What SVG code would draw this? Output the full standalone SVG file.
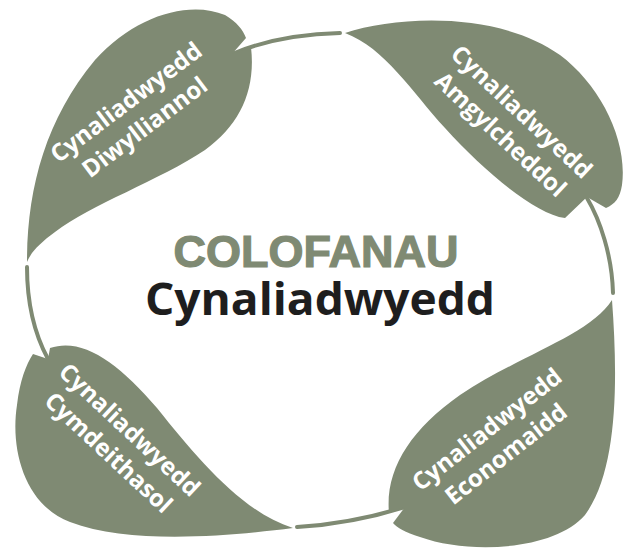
<svg xmlns="http://www.w3.org/2000/svg" width="631" height="551" viewBox="0 0 631 551">
<style>
.leaf{fill:#7f8a73}
.stem{fill:none;stroke:#7f8a73;stroke-width:4;stroke-linecap:round}
.lt{font-family:"Open Sans","Noto Sans",sans-serif;font-weight:700;font-size:24px;fill:#fff;text-anchor:middle}
.t1{font-family:"Liberation Sans",Arial,sans-serif;font-weight:700;font-size:45px;fill:#7f8a73;stroke:#7f8a73;stroke-width:1.2;text-anchor:middle}
.t2{font-family:"Open Sans","Noto Sans",sans-serif;font-weight:700;font-size:45px;fill:#1e1e1e;text-anchor:middle}
</style>
<rect width="631" height="551" fill="#fff"/>
<g id="connectors">
<path class="stem" d="M232,54 C265,40 300,34 340,33"/>
<path class="stem" d="M587,198 C600,220 612,255 613,293"/>
<path class="stem" d="M405,507 C370,518 330,525 297,527"/>
<path class="stem" d="M48,359 C35,335 27,305 27,267"/>
</g>
<g id="leaf-diwylliannol">
<path class="leaf" d="M27,262 C27,190 45,120 95,60 C135,15 190,0 225,15 C237,22 243,30 246,38 L232,54 L251,47 C256,90 240,125 205,150 C160,180 90,205 55,232 C40,243 31,252 27,262 Z"/>
<g transform="translate(131,109) rotate(-37)">
<text class="lt" x="0" y="0">Cynaliadwyedd</text>
<text class="lt" x="0" y="31">Diwylliannol</text>
</g>
</g>
<g id="leaf-amgylcheddol">
<path class="leaf" d="M345,33 C400,15 500,12 560,55 C600,85 628,140 622,185 C620,198 615,204 606,208 L587,197 L565,218 C535,214 485,172 445,128 C412,92 385,48 345,33 Z"/>
<g transform="translate(516,118) rotate(43)">
<text class="lt" x="0" y="0">Cynaliadwyedd</text>
<text class="lt" x="0" y="31">Amgylcheddol</text>
</g>
</g>
<g id="leaf-economaidd">
<path class="leaf" d="M612,300 C618,380 618,470 585,515 C555,550 470,555 420,537 C405,532 397,528 393,523 L405,507 L389,513 C385,470 410,430 460,395 C520,355 590,335 612,300 Z"/>
<g transform="translate(492,436) rotate(-38)">
<text class="lt" x="0" y="0">Cynaliadwyedd</text>
<text class="lt" x="0" y="31">Economaidd</text>
</g>
</g>
<g id="leaf-cymdeithasol">
<path class="leaf" d="M293,528 C230,536 130,545 70,522 C25,505 10,450 17,405 C20,380 26,365 33,354 L48,359 L50,348 C82,337 118,362 157,408 C197,458 242,512 293,528 Z"/>
<g transform="translate(124,436) rotate(43)">
<text class="lt" x="0" y="0">Cynaliadwyedd</text>
<text class="lt" x="0" y="31">Cymdeithasol</text>
</g>
</g>
<g id="title">
<text class="t1" x="316" y="267">COLOFANAU</text>
<text class="t2" x="320" y="315" textLength="350" lengthAdjust="spacingAndGlyphs">Cynaliadwyedd</text>
</g>
</svg>
